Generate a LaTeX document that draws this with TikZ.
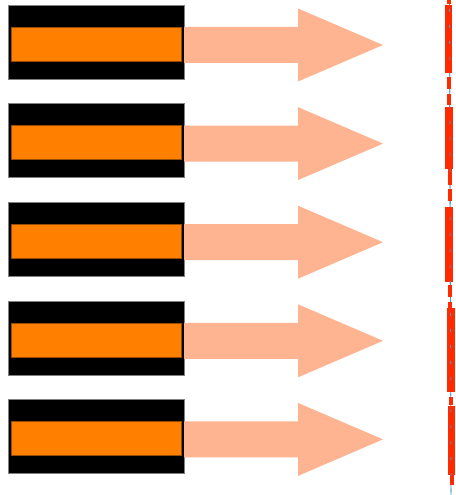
\documentclass[tikz,border=0pt]{standalone}
\usepackage{tikz}
\usetikzlibrary{calc}
\usetikzlibrary{positioning}
\definecolor{coreorange}{HTML}{FF7F00}
\definecolor{arrowpeach}{HTML}{FFB491}
\definecolor{stripred}{HTML}{FF2A00}
\definecolor{stripblue}{HTML}{3A9AD9}
\tikzset{
  cellbox/.style={rectangle, fill=black, draw=gray, line width=.6pt,
    minimum width=176pt, minimum height=74pt, inner sep=0pt, outer sep=0pt},
  corebox/.style={rectangle, fill=coreorange, draw=coreorange!60!black, line width=.5pt,
    minimum width=170pt, minimum height=34pt, inner sep=0pt, outer sep=0pt}
}
\begin{document}
\begin{tikzpicture}[x=1pt, y=-1pt]
    \useasboundingbox (0,0) rectangle (455,495);

    \foreach \i in {1,...,5}{
      \node[cellbox] (cell\i) at (96, {42+98.6*(\i-1)}) {};
      \node[corebox] (core\i) at ($(cell\i.center)+(0,2)$) {};
      \fill[arrowpeach] ($(cell\i.east)+(0,-15)$) -- ++(114,0) -- ++(0,-18.5)
        -- ($(cell\i.east)+(199,3)$) -- ($(cell\i.east)+(114,39.5)$)
        -- ++(0,-18.5) -- ($(cell\i.east)+(0,21)$) -- cycle;
    }

    % strip on the right
    \coordinate (stripTop) at (449.5,0);
    \coordinate (stripBot) at (451,495);
    \draw[stripblue, line width=.8pt] (stripTop) -- (stripBot);
    \foreach \a/\b/\c/\d in {0/4/447/451, 5/73/445/452, 77/89/447/451, 94/105/447/451,
      107/169/445/453, 169/185/448/452, 189/201/448/452, 207/282/445/453,
      285/297/448/452, 302/308/448/452, 308/392/447/455, 397/405/449/453,
      406/475/448/455, 475/485/450/454}{
      \fill[stripred] (\c,\a) rectangle (\d,\b);
    }
    \draw[stripblue!80!gray, line width=.8pt, dash pattern=on 3pt off 13pt,
      dash phase=-9pt] (stripTop) -- (stripBot);

  \end{tikzpicture}
\end{document}
